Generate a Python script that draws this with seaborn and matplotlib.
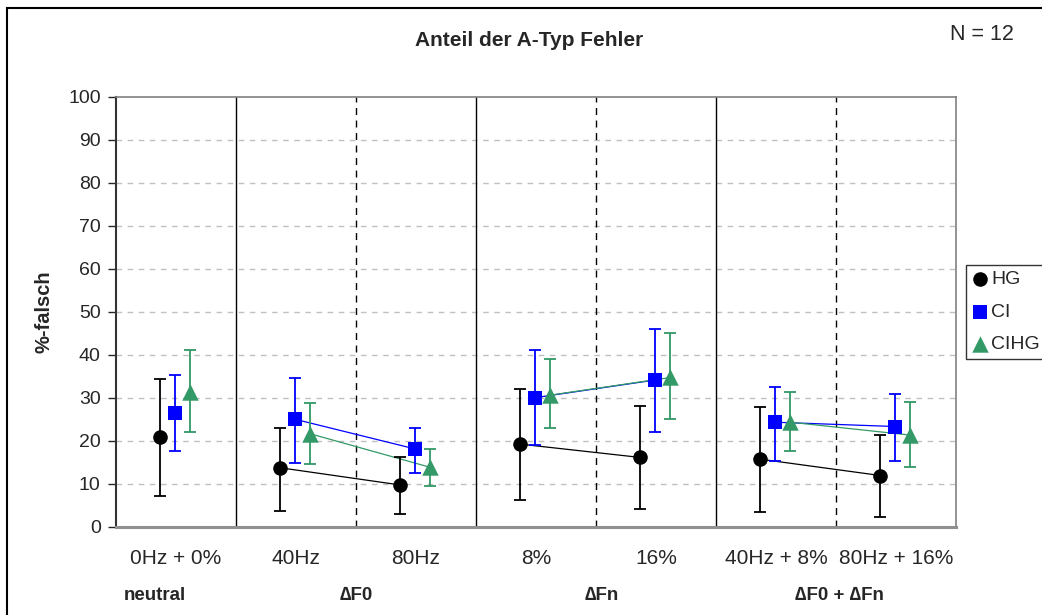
import numpy as np
import pandas as pd
import matplotlib
matplotlib.use('Agg')
import matplotlib.pyplot as plt
from matplotlib import font_manager
import seaborn as sns

# data
conditions = ['0Hz + 0%', '40Hz', '80Hz', '8%', '16%', '40Hz + 8%', '80Hz + 16%']
groups = ['neutral', '\u2206F0', '\u2206Fn', '\u2206F0 + \u2206Fn']
group_pos = [-0.18, 1.5, 3.55, 5.53]
pairs = [None, 1, 1, 2, 2, 3, 3]

hg_mean = [20.9, 13.7, 9.7, 19.2, 16.1, 15.7, 11.9]
hg_low = [7.1, 3.7, 3.0, 6.1, 4.1, 3.4, 2.3]
hg_high = [34.3, 23.0, 16.3, 32.0, 28.1, 27.9, 21.3]

ci_mean = [26.5, 25.0, 18.1, 30.0, 34.1, 24.3, 23.3]
ci_low = [17.6, 14.9, 12.6, 18.9, 22.0, 15.2, 15.3]
ci_high = [35.3, 34.6, 23.0, 41.1, 46.0, 32.6, 30.9]

cihg_mean = [31.4, 21.6, 13.8, 30.6, 34.7, 24.3, 21.3]
cihg_low = [22.0, 14.6, 9.5, 23.0, 25.0, 17.6, 13.9]
cihg_high = [41.1, 28.8, 18.0, 39.0, 45.0, 31.3, 29.1]

series = ['HG', 'CI', 'CIHG']
colors = {'HG': '#000000', 'CI': '#0000FF', 'CIHG': '#339966'}
markers = {'HG': 'o', 'CI': 's', 'CIHG': '^'}
sizes = {'HG': 110, 'CI': 100, 'CIHG': 140}
offsets = {'HG': -0.13, 'CI': -0.01, 'CIHG': 0.12}

rows = []
for name, m, lo, hi in [('HG', hg_mean, hg_low, hg_high),
                        ('CI', ci_mean, ci_low, ci_high),
                        ('CIHG', cihg_mean, cihg_low, cihg_high)]:
    for i, cond in enumerate(conditions):
        rows.append({'series': name, 'cond': cond, 'idx': i,
                     'x': i + offsets[name], 'val': m[i],
                     'low': lo[i], 'high': hi[i], 'pair': pairs[i]})
df = pd.DataFrame(rows)

sns.set_theme(style='white')
available = {f.name for f in font_manager.fontManager.ttflist}
base_font = 'Liberation Sans' if 'Liberation Sans' in available else 'DejaVu Sans'
plt.rcParams['font.family'] = [base_font, 'DejaVu Sans']

fig = plt.figure(figsize=(10.42, 6.15), dpi=100)
ax = fig.add_axes([116 / 1042, 1 - 526.7 / 615, 840 / 1042, 430 / 615])

# grid and separators
for y in range(10, 100, 10):
    ax.axhline(y, color='#C0C0C0', lw=1, ls=(0, (4, 4)), zorder=0)
for xs in [0.5, 2.5, 4.5]:
    ax.axvline(xs, color='black', lw=1, zorder=1)
for xs in [1.5, 3.5, 5.5]:
    ax.axvline(xs, color='black', lw=1, ls=(0, (5, 4)), zorder=1)

# connecting lines inside each group
line_df = df.dropna(subset=['pair'])
sns.lineplot(data=line_df, x='x', y='val', hue='series', units='pair',
             estimator=None, palette=colors, lw=0.9, legend=False,
             sort=False, ax=ax, zorder=2)

# error bars
for name in series:
    d = df[df.series == name]
    ax.errorbar(d['x'], d['val'], yerr=[d['val'] - d['low'], d['high'] - d['val']],
                fmt='none', ecolor=colors[name], elinewidth=1.3, capsize=4,
                capthick=1.3, zorder=3)

# markers
for name in series:
    d = df[df.series == name]
    sns.scatterplot(data=d, x='x', y='val', color=colors[name], marker=markers[name],
                    s=sizes[name], edgecolor=colors[name], linewidth=0,
                    label=name, ax=ax, zorder=4)

ax.set_xlim(-0.5, 6.5)
ax.set_ylim(0, 100)
ax.set_yticks(range(0, 101, 10))
ax.set_xticks(range(len(conditions)))
ax.set_xticklabels(conditions, fontsize=15)
ax.tick_params(axis='x', length=0, pad=16)
ax.tick_params(axis='y', length=6, width=1, direction='out', labelsize=14, pad=5, left=True)
ax.set_xlabel('')
ax.set_ylabel('%-falsch', fontsize=14.5, fontweight='bold')
ax.yaxis.set_label_coords(-0.074, 0.5)

for side in ['top', 'right']:
    ax.spines[side].set_color('#808080')
    ax.spines[side].set_linewidth(1.2)
ax.spines['left'].set_color('#333333')
ax.spines['left'].set_linewidth(1.5)
ax.spines['bottom'].set_color('#909090')
ax.spines['bottom'].set_linewidth(2.2)

# group labels under the ticks
trans = ax.get_xaxis_transform()
for g, gx in zip(groups, group_pos):
    ax.text(gx, -0.161, g, transform=trans, ha='center', va='center',
            fontsize=13.5, fontweight='bold')

fig.text(529 / 1042, 1 - 40 / 615, 'Anteil der A-Typ Fehler', ha='center', va='center',
         fontsize=15, fontweight='bold')
fig.text(982 / 1042, 1 - 35 / 615, 'N = 12', ha='center', va='center', fontsize=15.5)

leg = ax.legend(loc='upper left', bbox_to_anchor=(966 / 1042, 1 - 265 / 615),
                bbox_transform=fig.transFigure, frameon=True, fancybox=False,
                fontsize=14, handletextpad=0.2, borderpad=0.3, labelspacing=0.75,
                handlelength=0.8, borderaxespad=0)
leg.get_frame().set_edgecolor('black')
leg.get_frame().set_linewidth(1)

# outer chart border
fig.patches.append(plt.Rectangle((7 / 1042, -0.02), 1.05, 1 - 8 / 615 + 0.02,
                                 transform=fig.transFigure, fill=False,
                                 edgecolor='black', lw=1.5))

fig.savefig('out.png', dpi=100)
